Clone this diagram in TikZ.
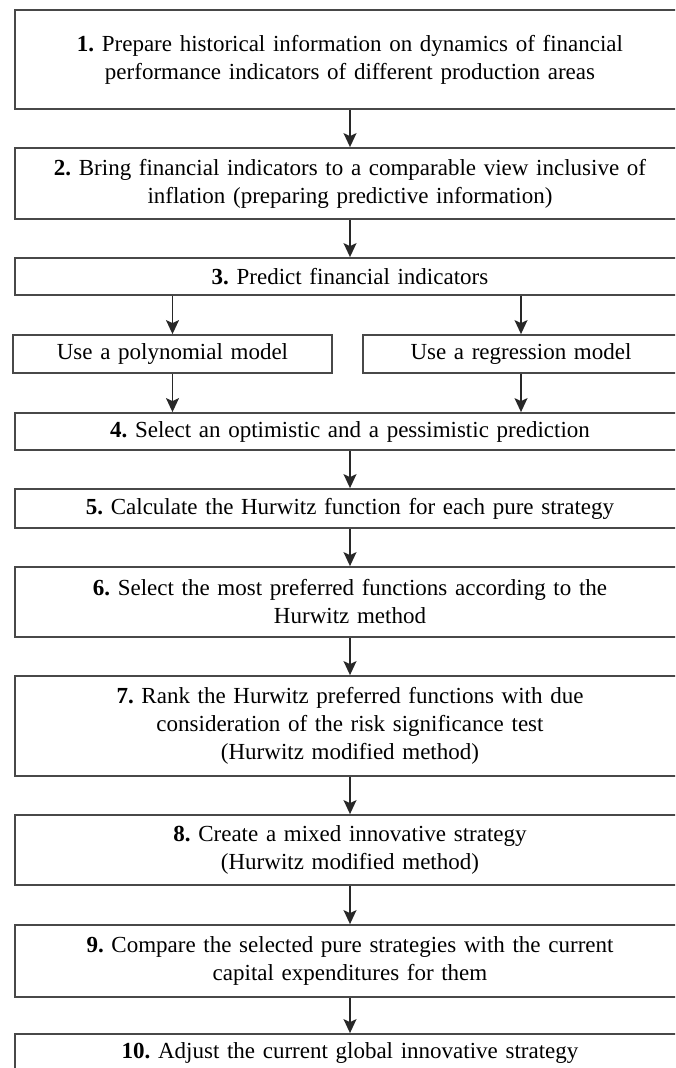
\documentclass[tikz,border=0pt]{standalone}
\usepackage{fontspec}
\setmainfont{Liberation Serif}
\usepackage{xcolor}
\usetikzlibrary{arrows.meta, positioning}
\definecolor{boxgray}{RGB}{72,72,72}
\definecolor{arrowgray}{RGB}{40,40,40}
\frenchspacing

\begin{document}
\begin{tikzpicture}[x=1pt, y=1pt,
    stepbox/.style={rectangle, draw=boxgray, line width=1.8pt, fill=white,
                inner xsep=5pt, inner ysep=0pt, text width=660pt, align=center,
                font=\fontsize{23}{28}\selectfont},
    subbox/.style={rectangle, draw=boxgray, line width=1.8pt, fill=white,
                inner xsep=5pt, inner ysep=0pt, minimum height=38pt, align=center,
                font=\fontsize{23}{28}\selectfont},
    arr/.style={-{Stealth[length=14pt, width=13pt, inset=3pt]}, line width=1.5pt, color=arrowgray}
]
\useasboundingbox (0,0) rectangle (675,-1068);
\clip (0,0) rectangle (675,-1068);

\node[stepbox, minimum height=99pt] (prepare)  at (350,-59.5)  {\textbf{1.} Prepare historical information on dynamics of financial\\performance indicators of different production areas};
\node[stepbox, minimum height=71pt] (compare)  at (350,-183.5) {\textbf{2.} Bring financial indicators to a comparable view inclusive of\\inflation (preparing predictive information)};
\node[stepbox, minimum height=37pt] (predict)  at (350,-276.5) {\textbf{3.} Predict financial indicators};
\node[subbox, text width=309pt]     (poly)     at (172.5,-354) {Use a polynomial model};
\node[subbox, text width=306pt]     (regr)     at (521,-354)   {Use a regression model};
\node[stepbox, minimum height=37pt] (select)   at (350,-431.5) {\textbf{4.} Select an optimistic and a pessimistic prediction};
\node[stepbox, minimum height=39pt] (hurwitz)  at (350,-508.5) {\textbf{5.} Calculate the Hurwitz function for each pure strategy};
\node[stepbox, minimum height=70pt] (prefer)   at (350,-602)   {\textbf{6.} Select the most preferred functions according to the\\Hurwitz method};
\node[stepbox, minimum height=100pt] (rank)    at (350,-726)   {\textbf{7.} Rank the Hurwitz preferred functions with due\\consideration of the risk significance test\\(Hurwitz modified method)};
\node[stepbox, minimum height=70pt] (mixed)    at (350,-850)   {\textbf{8.} Create a mixed innovative strategy\\(Hurwitz modified method)};
\node[stepbox, minimum height=72pt] (capex)    at (350,-961)   {\textbf{9.} Compare the selected pure strategies with the current\\capital expenditures for them};
\node[stepbox, minimum height=37pt] (adjust)   at (350,-1052.5) {\textbf{10.} Adjust the current global innovative strategy};

\draw[arr] (prepare) -- (compare);
\draw[arr] (compare) -- (predict);
\draw[arr] (poly.north |- predict.south) -- (poly.north);
\draw[arr] (regr.north |- predict.south) -- (regr.north);
\draw[arr] (poly.south) -- (poly.south |- select.north);
\draw[arr] (regr.south) -- (regr.south |- select.north);
\draw[arr] (select) -- (hurwitz);
\draw[arr] (hurwitz) -- (prefer);
\draw[arr] (prefer) -- (rank);
\draw[arr] (rank) -- (mixed);
\draw[arr] (mixed) -- (capex);
\draw[arr] (capex) -- (adjust);

\end{tikzpicture}
\end{document}
